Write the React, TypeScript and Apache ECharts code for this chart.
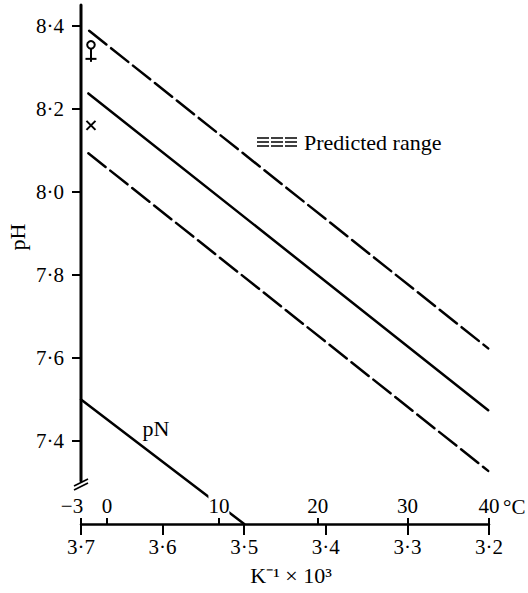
import React, { useEffect, useRef } from "react";
import * as echarts from "echarts";

// x: K^-1 x 10^3 ; y: pH
const invKTicks = [3.2, 3.3, 3.4, 3.5, 3.6, 3.7];
const pHTicks = [7.4, 7.6, 7.8, 8.0, 8.2, 8.4];
const celsiusLabels = ["−3", "0", "10", "20", "30", "40"];
const celsiusPos = [3.7, 3.668, 3.531, 3.41, 3.3, 3.2];

const upperDashed: [number, number][] = [[3.69, 8.388], [3.201, 7.623]];
const middleSolid: [number, number][] = [[3.691, 8.237], [3.201, 7.474]];
const lowerDashed: [number, number][] = [[3.691, 8.093], [3.201, 7.328]];
const pNLine: [number, number][] = [[3.7, 7.5], [3.5, 7.2]];
const femalePoint: [number, number][] = [[3.689, 8.354]];
const crossPoint: [number, number][] = [[3.689, 8.16]];
const yAxisSpan: [number, number][] = [[3.7, 7.304], [3.7, 8.45]];

const FONT = "'Liberation Serif', 'Times New Roman', serif";

export default function App() {
  const ref = useRef<HTMLDivElement>(null);
  useEffect(() => {
    document.body.style.margin = "0";
    const chart = echarts.init(ref.current!, null, { renderer: "svg" });
    const dot = (v: number) => v.toFixed(1).replace(".", "·");
    const lineSeries = (data: [number, number][], dashed: boolean, width = 2.5) => ({
      type: "line",
      data,
      symbol: "none",
      silent: true,
      clip: false,
      lineStyle: {
        color: "#000",
        width,
        type: dashed ? [22, 6] : "solid",
        cap: "round",
      },
    });
    const stroke = { stroke: "#000", lineWidth: 2, fill: "none" };
    chart.setOption({
      animation: false,
      backgroundColor: "#fff",
      grid: { left: 81, right: 39, top: 5, bottom: 69 },
      xAxis: [
        {
          type: "value",
          min: 3.2,
          max: 3.7,
          interval: 0.1,
          inverse: true,
          position: "bottom",
          offset: 0,
          axisLine: { show: true, onZero: false, lineStyle: { color: "#000", width: 2.5 } },
          axisTick: { show: true, length: 11, lineStyle: { color: "#000", width: 2 } },
          axisLabel: {
            formatter: (v: number) => dot(v),
            color: "#000",
            fontFamily: FONT,
            fontSize: 21,
            margin: 12,
            showMinLabel: true,
            showMaxLabel: true,
          },
          splitLine: { show: false },
          name: "K⁻¹ × 10³",
          nameLocation: "middle",
          nameGap: 40,
          nameTextStyle: { color: "#000", fontFamily: FONT, fontSize: 22, padding: [0, 0, 0, 12] },
        },
        {
          type: "value",
          min: 3.2,
          max: 3.7,
          inverse: true,
          position: "bottom",
          offset: 0,
          z: 10,
          axisLine: { show: false, onZero: false },
          axisTick: {
            show: true,
            inside: true,
            length: 6,
            customValues: celsiusPos,
            lineStyle: { color: "#000", width: 2 },
          },
          axisLabel: {
            inside: true,
            customValues: celsiusPos,
            margin: 8,
            color: "#000",
            fontFamily: FONT,
            fontSize: 21,
            backgroundColor: "#fff",
            formatter: (v: number) => {
              let best = 0;
              for (let i = 0; i < celsiusPos.length; i++) {
                if (Math.abs(celsiusPos[i] - v) < Math.abs(celsiusPos[best] - v)) best = i;
              }
              const t = celsiusLabels[best];
              return best === 0 ? "{l|" + t + "}" : t;
            },
            rich: {
              l: { fontFamily: FONT, fontSize: 21, color: "#000", padding: [0, 18, 0, 0] },
            },
          },
          splitLine: { show: false },
        },
      ],
      yAxis: {
        type: "value",
        min: 7.2,
        max: 8.45,
        axisLine: { show: false },
        axisTick: {
          show: true,
          length: 9,
          customValues: pHTicks,
          lineStyle: { color: "#000", width: 2 },
        },
        axisLabel: {
          customValues: pHTicks,
          formatter: (v: number) => dot(v),
          color: "#000",
          fontFamily: FONT,
          fontSize: 21,
          margin: 17,
        },
        splitLine: { show: false },
      },
      series: [
        lineSeries(yAxisSpan, false, 3),
        lineSeries(upperDashed, true),
        lineSeries(middleSolid, false),
        lineSeries(lowerDashed, true),
        lineSeries(pNLine, false),
        {
          type: "custom",
          data: femalePoint,
          silent: true,
          clip: false,
          renderItem: (params: any, api: any) => {
            const p = api.coord([api.value(0), api.value(1)]);
            const cx = p[0] + 1;
            const cy = p[1];
            return {
              type: "group",
              children: [
                { type: "circle", shape: { cx, cy, r: 3.8 }, style: stroke },
                { type: "line", shape: { x1: cx, y1: cy + 3.8, x2: cx, y2: cy + 17 }, style: stroke },
                { type: "line", shape: { x1: cx - 5.5, y1: cy + 14, x2: cx + 5.5, y2: cy + 14 }, style: stroke },
              ],
            };
          },
        },
        {
          type: "custom",
          data: crossPoint,
          silent: true,
          clip: false,
          renderItem: (params: any, api: any) => {
            const p = api.coord([api.value(0), api.value(1)]);
            const cx = p[0] + 1;
            const cy = p[1];
            const h = 4.5;
            return {
              type: "group",
              children: [
                { type: "line", shape: { x1: cx - h, y1: cy - h, x2: cx + h, y2: cy + h }, style: stroke },
                { type: "line", shape: { x1: cx - h, y1: cy + h, x2: cx + h, y2: cy - h }, style: stroke },
              ],
            };
          },
        },
      ],
      graphic: [
        {
          type: "text",
          x: 17,
          y: 237,
          rotation: Math.PI / 2,
          style: {
            text: "pH",
            fill: "#000",
            font: `22px ${FONT}`,
            align: "center",
            verticalAlign: "middle",
          },
        },
        {
          type: "text",
          x: 156,
          y: 428,
          style: { text: "pN", fill: "#000", font: `22px ${FONT}`, align: "center", verticalAlign: "middle" },
        },
        {
          type: "text",
          x: 503,
          y: 507,
          style: { text: "°C", fill: "#000", font: `21px ${FONT}`, align: "left", verticalAlign: "middle" },
        },
        {
          type: "text",
          x: 304,
          y: 142,
          style: { text: "Predicted range", fill: "#000", font: `22px ${FONT}`, align: "left", verticalAlign: "middle" },
        },
        ...[138, 142, 146].map((yy) => ({
          type: "line",
          shape: { x1: 257, y1: yy, x2: 299, y2: yy },
          style: { stroke: "#000", lineWidth: 1.5, lineDash: [12, 2] },
        })),
        {
          type: "line",
          shape: { x1: 74, y1: 486, x2: 88, y2: 479 },
          style: { stroke: "#000", lineWidth: 1.8 },
        },
        {
          type: "line",
          shape: { x1: 74, y1: 490, x2: 88, y2: 483 },
          style: { stroke: "#000", lineWidth: 1.8 },
        },
      ],
    });
    return () => chart.dispose();
  }, []);
  return (
    <div
      ref={ref}
      style={{ width: 528, height: 593, position: "absolute", left: 0, top: 0 }}
    />
  );
}
